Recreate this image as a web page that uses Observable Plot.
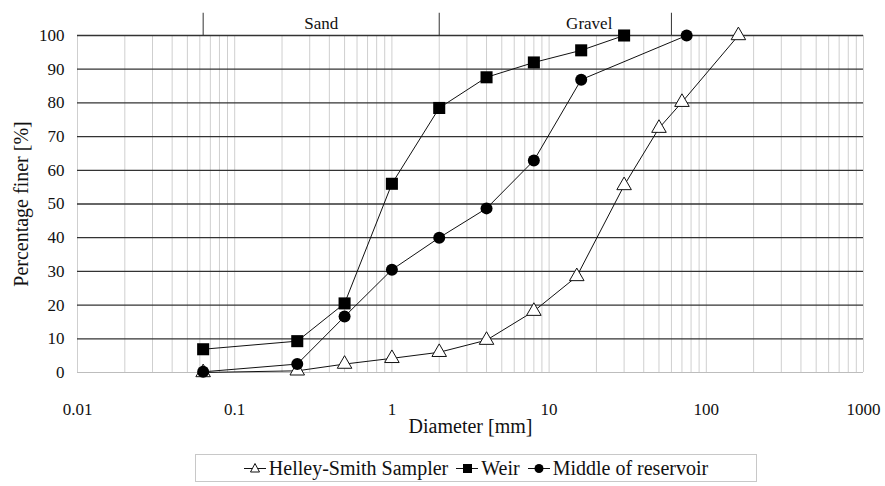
<!DOCTYPE html>
<html><head><meta charset="utf-8">
<script src="https://cdn.jsdelivr.net/npm/d3@7"></script>
<script src="https://cdn.jsdelivr.net/npm/@observablehq/plot@0.6"></script>
<style>
body{margin:0;background:#fff;font-family:"Liberation Serif","Times New Roman",serif;color:#111;}
#chart svg{display:block;}
#chart svg, #chart svg text{font-family:"Liberation Serif","Times New Roman",serif !important;}
#legend{position:absolute;left:195px;top:454px;width:562px;height:28px;box-sizing:border-box;border:1px solid #c8c8c8;display:flex;align-items:center;justify-content:center;gap:8px;font-size:20px;white-space:nowrap;}
#legend .item{display:flex;align-items:center;gap:3px;}
</style></head><body>
<div id="chart"></div>
<div id="legend"></div>
<script>
// Helley-Smith Sampler
const helleyD = [0.063, 0.25, 0.5, 1, 2, 4, 8, 15, 30, 50, 70, 160];
const helleyP = [0, 0.5, 2.5, 4.2, 6, 9.6, 18.2, 28.5, 55.5, 72.5, 80.2, 100];
// Weir
const weirD = [0.063, 0.25, 0.5, 1, 2, 4, 8, 16, 30];
const weirP = [6.9, 9.3, 20.5, 56, 78.5, 87.6, 92, 95.6, 100];
// Middle of reservoir
const middleD = [0.063, 0.25, 0.5, 1, 2, 4, 8, 16, 75];
const middleP = [0.2, 2.5, 16.6, 30.5, 40, 48.7, 62.9, 86.9, 100];

const seriesNames = ["Helley-Smith Sampler", "Weir", "Middle of reservoir"];
const yTicks = [0, 10, 20, 30, 40, 50, 60, 70, 80, 90, 100];
const xTickLabels = [0.01, 0.1, 1, 10, 100, 1000];
const zoneBounds = [0.063, 2, 60];
const zoneNames = ["Sand", "Gravel"];
const zoneLabelX = [0.355, 18];

const toRows = (D, P) => D.map((d, i) => ({d, p: P[i]}));
const helley = toRows(helleyD, helleyP);
const weir = toRows(weirD, weirP);
const middle = toRows(middleD, middleP);

// minor log grid positions (1..9 per decade)
const xGrid = [];
for (let e = -2; e < 3; e++) for (let m = 1; m < 10; m++) xGrid.push(+(m * Math.pow(10, e)).toPrecision(3));
xGrid.push(1000);

const zones = zoneNames.map((t, i) => ({t, x: zoneLabelX[i]}));

const chart = Plot.plot({
  width: 885, height: 450,
  marginLeft: 77, marginRight: 22, marginTop: 35, marginBottom: 78,
  style: {fontSize: "17px", color: "#111", background: "white", overflow: "visible"},
  x: {type: "log", domain: [0.01, 1000]},
  y: {domain: [0, 100]},
  marks: [
    Plot.ruleX(xGrid, {stroke: "#cfcfcf", strokeWidth: 1}),
    Plot.ruleY(yTicks.filter(v => v > 0), {stroke: "#333", strokeWidth: 1.3}),
    Plot.ruleY([0], {stroke: "#bdbdbd", strokeWidth: 1}),
    Plot.axisY({ticks: yTicks, tickSize: 0, tickPadding: 13, label: null, fontSize: 17}),
    Plot.axisX({ticks: xTickLabels, tickFormat: d => String(d), tickSize: 0, tickPadding: 30, label: null, fontSize: 17}),
    Plot.text(["Diameter [mm]"], {frameAnchor: "bottom", dy: 60, fontSize: 20}),
    Plot.text(["Percentage finer [%]"], {frameAnchor: "left", textAnchor: "middle", dx: -56, rotate: -90, fontSize: 20}),
    Plot.ruleX(zoneBounds, {y1: 100, y2: 106.6, stroke: "#333", strokeWidth: 1}),
    Plot.text(zones, {x: "x", y: 103.6, text: "t", fontSize: 17}),
    Plot.line(helley, {x: "d", y: "p", stroke: "#111", strokeWidth: 1}),
    Plot.line(weir, {x: "d", y: "p", stroke: "#111", strokeWidth: 1}),
    Plot.line(middle, {x: "d", y: "p", stroke: "#111", strokeWidth: 1}),
    Plot.dot(helley, {x: "d", y: "p", symbol: "triangle", r: 5.4, fill: "white", stroke: "#111", strokeWidth: 1}),
    Plot.dot(weir, {x: "d", y: "p", symbol: "square", r: 6.8, fill: "#000"}),
    Plot.dot(middle, {x: "d", y: "p", symbol: "circle", r: 6, fill: "#000"})
  ]
});
document.getElementById("chart").appendChild(chart);

// legend
const legendSymbols = [
  '<polygon points="11,2.5 15.5,11 6.5,11" fill="white" stroke="#111" stroke-width="1"/>',
  '<rect x="7" y="3" width="9" height="9" fill="#000"/>',
  '<circle cx="11" cy="7.5" r="4.5" fill="#000"/>'
];
const leg = document.getElementById("legend");
seriesNames.forEach((name, i) => {
  const item = document.createElement("span");
  item.className = "item";
  item.innerHTML = `<svg width="22" height="15"><line x1="0" y1="7.5" x2="22" y2="7.5" stroke="#111" stroke-width="1"/>${legendSymbols[i]}</svg><span>${name}</span>`;
  leg.appendChild(item);
});
</script>
</body></html>
